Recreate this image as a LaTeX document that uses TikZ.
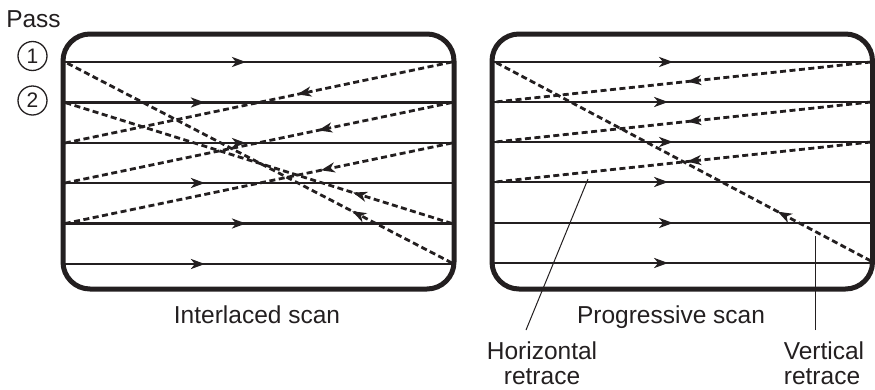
\documentclass[tikz,border=0pt]{standalone}
\usepackage{fontspec}
\setmainfont{Liberation Sans}
\usetikzlibrary{arrows.meta,decorations.markings}
\definecolor{ink}{RGB}{35,31,32}
\begin{document}
\begin{tikzpicture}[x=1pt,y=-1pt,
  box/.style={draw=ink, line width=5pt, rounded corners=27pt, inner sep=0pt},
  scan/.style={draw=ink, line width=2.8pt},
  retrace/.style={draw=ink, line width=2.8pt, dash pattern=on 6pt off 3.5pt},
  tipat/.style={postaction={decorate}, decoration={markings, mark=at position #1 with {\arrow{Stealth[length=14pt,width=10pt,inset=4pt]}}}},
  lbl/.style={font=\fontsize{24.5}{28}\selectfont, text=ink, inner sep=0pt, anchor=base},
  leader/.style={draw=ink, line width=1pt},
  passnum/.style={circle, draw=ink, line width=1.3pt, minimum size=29pt, inner sep=0pt, font=\fontsize{21}{24}\selectfont, text=ink}
]
\useasboundingbox (0,0) rectangle (875,389);

% ---------- Interlaced scan ----------
\foreach \y/\p in {62/0.468, 102.5/0.363, 143/0.468, 183/0.363, 223.5/0.468, 264/0.363}
  \draw[scan, tipat=\p] (63,\y) -- (454,\y);
\draw[retrace, tipat=0.40]  (452,62)    -- (65,143);
\draw[retrace, tipat=0.346] (452,102.5) -- (65,183);
\draw[retrace, tipat=0.339] (452,143)   -- (65,223.5);
\draw[retrace, tipat=0.258] (452,263)   -- (65,62);
\draw[retrace, tipat=0.256] (452,223.5) -- (65,102.5);
\node[box, minimum width=391pt, minimum height=255pt] (LB) at (258.5,161.5) {};

% ---------- Progressive scan ----------
\foreach \y/\p in {62/0.476, 102/0.463, 142/0.476, 182/0.463, 223/0.476, 263/0.463}
  \draw[scan, tipat=\p] (492,\y) -- (872.5,\y);
\draw[retrace, tipat=0.489] (871,62)  -- (495,102);
\draw[retrace, tipat=0.489] (871,102) -- (495,142);
\draw[retrace, tipat=0.489] (871,142) -- (495,182);
\draw[retrace, tipat=0.248] (871,261) -- (495,62);
\node[box, minimum width=380.5pt, minimum height=255pt] (RB) at (682.25,161.5) {};

% ---------- labels ----------
\node[lbl] (pass) at (33.5,27) {Pass};
\node[passnum] (p1) at (32.5,56) {1};
\node[passnum] (p2) at (32.5,100.5) {2};
\node[lbl] (il) at (257,323) {Interlaced scan};
\node[lbl] (ps) at (671,323) {Progressive scan};
\node[lbl] (hr1) at (542,359) {Horizontal};
\node[lbl] (hr2) at (542,384.5) {retrace};
\node[lbl] (vr1) at (824,359) {Vertical};
\node[lbl] (vr2) at (822,384.5) {retrace};

% ---------- leaders ----------
\coordinate (hrA) at (588,179);
\coordinate (hrB) at (526,330);
\coordinate (vrA) at (815,236);
\coordinate (vrB) at (815,330);
\draw[leader] (hrB) -- (hrA);
\draw[leader] (vrB) -- (vrA);
\end{tikzpicture}
\end{document}
